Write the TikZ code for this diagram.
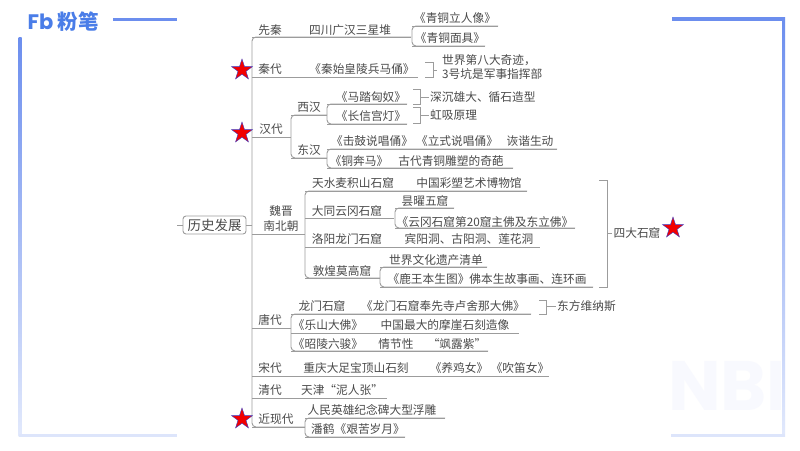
\documentclass[tikz,border=0pt]{standalone}
\usepackage{fontspec}
\setmainfont{Noto Sans CJK SC}
\newfontfamily\logofont{Poppins}[BoldFont={Poppins Bold}]
\usetikzlibrary{shapes.geometric}
\definecolor{ink}{HTML}{4A4A4A}
\definecolor{wire}{HTML}{9C9C9C}
\definecolor{brand}{HTML}{4A7DE8}
\definecolor{frameA}{HTML}{6C8EEE}
\definecolor{frameB}{HTML}{E2E9FC}
\definecolor{frameC}{HTML}{DDE5FB}
\definecolor{mark}{HTML}{F8F9FE}
\tikzset{
  lbl/.style={inner sep=1pt,text=ink,font=\fontsize{11.7}{13}\selectfont},
  ln/.style={draw=wire,line width=0.9pt},
  rc/.style={draw=wire,line width=0.9pt,rounded corners=4pt},
  redstar/.style={star,star points=5,star point ratio=2.6,fill=red!95!black,draw=blue!55!gray,line width=0.4pt,minimum size=22pt,inner sep=0pt}
}
\newcommand{\T}[4]{\node[lbl] (#1) at (#2,#3) {#4};}
\newcommand{\TL}[4]{\node[lbl,anchor=west] (#1) at (#2,#3) {#4};}
\newcommand{\Row}[4]{\coordinate (#1-a) at (#2,#3);\coordinate (#1-b) at (#4,#3);\draw[ln] (#1-a) -- (#1-b);}
\newcommand{\Fork}[2]{\draw[rc] (#1-b) -- (#1-a) -- (#2-a) -- (#2-b);}
% name, x0, x1, y0, y1, label node
\newcommand{\Brk}[6]{\coordinate (#1-p) at (#2,#4);\coordinate (#1-q) at (#3,#4);\coordinate (#1-r) at (#3,#5);\coordinate (#1-s) at (#2,#5);
  \draw[ln] (#1-p) -- (#1-q) -- (#1-r) -- (#1-s);\draw[ln] (#1-q |- #6.west) -- (#6.west);}
\begin{document}
\begin{tikzpicture}[x=1pt,y=-1pt]
\useasboundingbox (0,0) rectangle (800,450);
\fill[white] (0,0) rectangle (800,450);
% watermark
\begin{scope}
\clip (660,350) rectangle (780,420);
\node[text=mark,font=\logofont\bfseries\fontsize{70}{70}\selectfont,anchor=west,inner sep=0pt] (wm) at (668,386) {NBI};
\end{scope}
% frame
\fill[frameA] (113,17.5) rectangle (177,20.5);
\fill[frameA] (672,17) rectangle (785,20.5);
\shade[top color=frameA,bottom color=frameB] (18.5,37) rectangle (21.5,436.5);
\shade[top color=frameA,bottom color=frameB] (782,17) rectangle (785,436.5);
\fill[frameC] (18.5,433.5) rectangle (177,436.5);
\fill[frameC] (671,433.5) rectangle (785,436.5);
% logo
\node[text=brand,font=\logofont\bfseries\fontsize{21}{21}\selectfont,inner sep=0pt] (logoa) at (40.5,21.5) {Fb};
\node[text=brand,font=\bfseries\fontsize{20.5}{21}\selectfont,inner sep=0pt] (logob) at (78,22) {粉笔};
% root
\node[draw=wire,line width=0.9pt,rounded corners=3pt,minimum width=63pt,minimum height=18pt,inner sep=0pt,text=ink,font=\fontsize{13.5}{15}\selectfont] (root) at (214.5,225) {历史发展};
\coordinate (stub) at (177,225);
\coordinate (tr) at (252,225);
\draw[ln] (stub) -- (root);
\draw[ln] (root) -- (tr);
% trunk rows
\Row{xq}{252}{37}{411}
\Row{qd}{252}{77}{418}
\Row{hd}{252}{137}{291}
\Row{wj}{252}{234}{305}
\Row{td}{252}{328}{291}
\Row{sd}{252}{376}{549}
\Row{ql}{252}{398}{387}
\Row{jx}{252}{427}{305}
\Fork{xq}{jx}
% xianqin
\T{t1}{270}{30}{先秦}
\T{t2}{350}{30}{四川广汉三星堆}
\T{t3}{455}{18}{《青铜立人像》}
\T{t4}{450}{38}{《青铜面具》}
\Row{xqa}{412}{26}{498}
\Row{xqb}{412}{46}{485}
\Fork{xqa}{xqb}
% qin
\T{t5}{270}{69}{秦代}
\T{t6}{362}{69}{《秦始皇陵兵马俑》}
\TL{t7}{441}{60}{世界第八大奇迹，}
\TL{t8}{441}{74}{3号坑是军事指挥部}
\coordinate (qbm) at (437,70);
\Brk{qb}{425}{433}{62}{77}{qbm}
% han
\T{t9}{271}{129}{汉代}
\T{t10}{309}{107}{西汉}
\T{t11}{309}{150}{东汉}
\Row{hx}{291}{115}{327}
\Row{hy}{291}{158}{327}
\Fork{hx}{hy}
\T{t12}{371}{97}{《马踏匈奴》}
\T{t13}{371}{116}{《长信宫灯》}
\Row{ma}{327}{104}{407}
\Row{ch}{327}{124}{407}
\Fork{ma}{ch}
\TL{t14}{429}{97}{深沉雄大、循石造型}
\TL{t15}{429}{115}{虹吸原理}
\Brk{ba}{413}{420}{89}{104}{t14}
\Brk{bb}{413}{420}{107}{123}{t15}
\T{t16}{372}{141}{《击鼓说唱俑》}
\T{t17}{457}{141}{《立式说唱俑》}
\T{t18}{530}{141}{诙谐生动}
\T{t19}{359}{161}{《铜奔马》}
\T{t20}{451}{161}{古代青铜雕塑的奇葩}
\Row{jg}{327}{149}{557}
\Row{tb}{327}{168}{513}
\Fork{jg}{tb}
% weijin
\T{t21}{281}{211}{魏晋}
\T{t22}{281}{226}{南北朝}
\Row{w1}{305}{191}{527}
\Row{w2}{305}{218}{394}
\Row{w3}{305}{247}{540}
\Row{w4}{305}{278}{380}
\Fork{w1}{w4}
\T{t23}{353}{183}{天水麦积山石窟}
\T{t24}{469}{183}{中国彩塑艺术博物馆}
\T{t25}{347}{211}{大同云冈石窟}
\T{t26}{425}{201}{昙曜五窟}
\T{t27}{485}{222}{《云冈石窟第20窟主佛及东立佛》}
\Row{y1}{395}{208}{454}
\Row{y2}{395}{228}{575}
\Fork{y1}{y2}
\T{t28}{347}{239}{洛阳龙门石窟}
\T{t29}{469}{239}{宾阳洞、古阳洞、莲花洞}
\T{t30}{342}{271}{敦煌莫高窟}
\T{t31}{436}{260}{世界文化遗产清单}
\T{t32}{487}{279}{《鹿王本生图》佛本生故事画、连环画}
\Row{d1}{380}{267}{487}
\Row{d2}{380}{287}{593}
\Fork{d1}{d2}
\T{t33}{637}{233}{四大石窟}
\Brk{bc}{599}{607}{180}{287}{t33}
% tang
\T{t34}{270}{320}{唐代}
\Row{ta}{291}{314}{531}
\Row{tm}{291}{333}{519}
\Row{tc}{291}{351}{488}
\Fork{ta}{tc}
\T{t35}{322}{306}{龙门石窟}
\T{t36}{443}{306}{《龙门石窟奉先寺卢舍那大佛》}
\TL{t37}{556}{306}{东方维纳斯}
\Brk{bd}{539}{546}{300}{314}{t37}
\T{t38}{328}{325}{《乐山大佛》}
\T{t39}{445}{325}{中国最大的摩崖石刻造像}
\T{t40}{328}{344}{《昭陵六骏》}
\T{t41}{396}{344}{情节性}
\T{t42}{457}{344}{“飒露紫”}
% song
\T{t43}{270}{368}{宋代}
\T{t44}{356}{368}{重庆大足宝顶山石刻}
\T{t45}{459}{368}{《养鸡女》}
\T{t46}{520}{368}{《吹笛女》}
% qing
\T{t47}{270}{390}{清代}
\T{t48}{342}{390}{天津“泥人张”}
% modern
\T{t49}{276}{419}{近现代}
\T{t50}{372}{410}{人民英雄纪念碑大型浮雕}
\T{t51}{358}{429}{潘鹤《艰苦岁月》}
\Row{m1}{305}{418}{445}
\Row{m2}{305}{437}{405}
\Fork{m1}{m2}
% stars
\node[redstar] (s1) at (242,70) {};
\node[redstar] (s2) at (242,133) {};
\node[redstar] (s3) at (242,419) {};
\node[redstar] (s4) at (673,228) {};
\end{tikzpicture}
\end{document}
